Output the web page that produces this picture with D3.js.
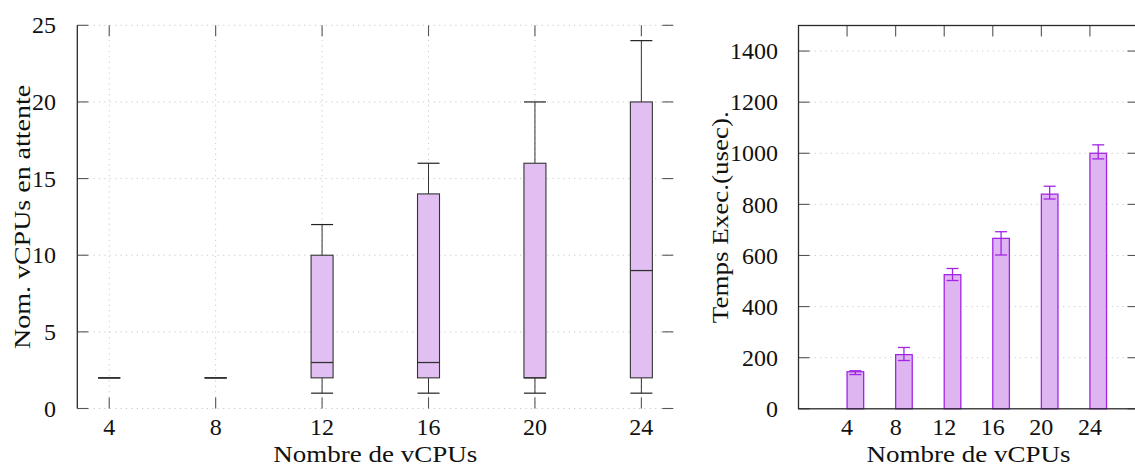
<!DOCTYPE html>
<html>
<head>
<meta charset="utf-8">
<script src="https://cdn.jsdelivr.net/npm/d3@7"></script>
<style>
  html, body { margin: 0; padding: 0; background: #fff; }
  svg { display: block; }
  text { font-family: "Liberation Serif", "DejaVu Serif", serif; fill: #111; }
</style>
</head>
<body>
<svg id="chart" width="1135" height="465"></svg>
<script>
// ---- Data ----
const categories = [4, 8, 12, 16, 20, 24];

// Left: box plot of waiting vCPUs
const whiskerLow  = [2, 2, 1, 1, 1, 1];
const quartile1   = [2, 2, 2, 2, 2, 2];
const medianVals  = [2, 2, 3, 3, 2, 9];
const quartile3   = [2, 2, 10, 14, 16, 20];
const whiskerHigh = [2, 2, 12, 16, 20, 24];
const leftYTicks  = [0, 5, 10, 15, 20, 25];

// Right: execution time bars with error bars
const execTime = [145, 212, 525, 667, 840, 1000];
const errLow   = [134, 189, 502, 602, 821, 978];
const errHigh  = [149, 240, 549, 693, 871, 1033];
const rightYTicks = [0, 200, 400, 600, 800, 1000, 1200, 1400];

const xLabel = "Nombre de vCPUs";
const leftYLabel = "Nom. vCPUs en attente";
const rightYLabel = "Temps Exec.(usec).";

// ---- Styles ----
const FONT = 24;
const gridColor = "#c8c8c8";
const axisColor = "#2a2a2a";
const tickColor = "#555";
const boxFill = "#e2bff3";
const boxStroke = "#333";
const barFill = "#dfb5f1";
const barStroke = "#a225e6";
const TICK = 11;

const svg = d3.select("#chart");

// ================= LEFT CHART =================
const L = { x0: 77.3, x1: 673.3, y0: 408.5, y1: 25.3 };
const xL = d3.scaleLinear().domain([2.8, 25.2]).range([L.x0, L.x1]);
const yL = d3.scaleLinear().domain([0, 25]).range([L.y0, L.y1]);

const gL = svg.append("g");

// grid (dotted) horizontal
gL.append("g").selectAll("line").data(leftYTicks).join("line")
  .attr("x1", L.x0).attr("x2", L.x1)
  .attr("y1", d => yL(d)).attr("y2", d => yL(d))
  .attr("stroke", gridColor).attr("stroke-width", 1)
  .attr("stroke-dasharray", "1.2,4.2");
// grid vertical
gL.append("g").selectAll("line").data(categories).join("line")
  .attr("x1", d => xL(d)).attr("x2", d => xL(d))
  .attr("y1", L.y0).attr("y2", L.y1)
  .attr("stroke", gridColor).attr("stroke-width", 1)
  .attr("stroke-dasharray", "1.2,4.2");

// ticks: left & right (horizontal), top & bottom (vertical), inward
const tL = gL.append("g").attr("stroke", tickColor).attr("stroke-width", 1.1);
tL.selectAll(".yl").data(leftYTicks).join("line")
  .attr("x1", L.x0).attr("x2", L.x0 + TICK)
  .attr("y1", d => yL(d)).attr("y2", d => yL(d));
tL.selectAll(".yr").data(leftYTicks).join("line").attr("class", "yr")
  .attr("x1", L.x1 - TICK).attr("x2", L.x1)
  .attr("y1", d => yL(d)).attr("y2", d => yL(d));
tL.selectAll(".xt").data(categories).join("line").attr("class", "xt")
  .attr("x1", d => xL(d)).attr("x2", d => xL(d))
  .attr("y1", L.y1).attr("y2", L.y1 + TICK);
tL.selectAll(".xb").data(categories).join("line").attr("class", "xb")
  .attr("x1", d => xL(d)).attr("x2", d => xL(d))
  .attr("y1", L.y0 - TICK).attr("y2", L.y0);

// left axis line
gL.append("line").attr("x1", L.x0).attr("x2", L.x0).attr("y1", L.y1).attr("y2", L.y0)
  .attr("stroke", axisColor).attr("stroke-width", 1.3);

// boxes
const boxW = 22, capW = 22;
const boxes = gL.append("g").selectAll("g").data(categories).join("g");
boxes.append("line")
  .attr("x1", d => xL(d)).attr("x2", d => xL(d))
  .attr("y1", (d, i) => yL(whiskerLow[i])).attr("y2", (d, i) => yL(quartile1[i]))
  .attr("stroke", boxStroke).attr("stroke-width", 1);
boxes.append("line")
  .attr("x1", d => xL(d)).attr("x2", d => xL(d))
  .attr("y1", (d, i) => yL(quartile3[i])).attr("y2", (d, i) => yL(whiskerHigh[i]))
  .attr("stroke", boxStroke).attr("stroke-width", 1);
boxes.append("line")
  .attr("x1", d => xL(d) - capW / 2).attr("x2", d => xL(d) + capW / 2)
  .attr("y1", (d, i) => yL(whiskerLow[i])).attr("y2", (d, i) => yL(whiskerLow[i]))
  .attr("stroke", "#222").attr("stroke-width", 1.2);
boxes.append("line")
  .attr("x1", d => xL(d) - capW / 2).attr("x2", d => xL(d) + capW / 2)
  .attr("y1", (d, i) => yL(whiskerHigh[i])).attr("y2", (d, i) => yL(whiskerHigh[i]))
  .attr("stroke", "#222").attr("stroke-width", 1.2);
boxes.append("rect")
  .attr("x", d => xL(d) - boxW / 2).attr("width", boxW)
  .attr("y", (d, i) => yL(quartile3[i]))
  .attr("height", (d, i) => yL(quartile1[i]) - yL(quartile3[i]))
  .attr("fill", boxFill).attr("stroke", boxStroke).attr("stroke-width", 1.1);
boxes.append("line")
  .attr("x1", d => xL(d) - boxW / 2).attr("x2", d => xL(d) + boxW / 2)
  .attr("y1", (d, i) => yL(medianVals[i])).attr("y2", (d, i) => yL(medianVals[i]))
  .attr("stroke", "#333").attr("stroke-width", 1.3);

// tick labels
gL.append("g").selectAll("text").data(leftYTicks).join("text")
  .attr("x", 56).attr("y", d => yL(d)).attr("dy", "0.34em")
  .attr("text-anchor", "end").attr("font-size", FONT).text(d => d);
gL.append("g").selectAll("text").data(categories).join("text")
  .attr("x", d => xL(d)).attr("y", 435)
  .attr("text-anchor", "middle").attr("font-size", FONT).text(d => d);
gL.append("text").attr("x", (L.x0 + L.x1) / 2).attr("y", 461.5)
  .attr("text-anchor", "middle").attr("font-size", FONT)
  .attr("textLength", 204).attr("lengthAdjust", "spacingAndGlyphs").text(xLabel);
gL.append("text")
  .attr("transform", `translate(30,${(L.y0 + L.y1) / 2}) rotate(-90)`)
  .attr("text-anchor", "middle").attr("font-size", FONT)
  .attr("textLength", 264).attr("lengthAdjust", "spacingAndGlyphs").text(leftYLabel);

// ================= RIGHT CHART =================
const R = { x0: 798.5, x1: 1138.5, y0: 408.8, y1: 25.5 };
const xR = d3.scaleLinear().domain([0, 28]).range([R.x0, R.x1]);
const yR = d3.scaleLinear().domain([0, 1500]).range([R.y0, R.y1]);
const gR = svg.append("g");

// horizontal grid
gR.append("g").selectAll("line").data(rightYTicks.filter(d => d > 0)).join("line")
  .attr("x1", R.x0).attr("x2", R.x1)
  .attr("y1", d => yR(d)).attr("y2", d => yR(d))
  .attr("stroke", gridColor).attr("stroke-width", 1)
  .attr("stroke-dasharray", "1.2,4.2");

// ticks
const tR = gR.append("g").attr("stroke", tickColor).attr("stroke-width", 1.1);
tR.selectAll(".yl").data(rightYTicks).join("line").attr("class", "yl")
  .attr("x1", R.x0).attr("x2", R.x0 + TICK)
  .attr("y1", d => yR(d)).attr("y2", d => yR(d));
tR.selectAll(".yr").data(rightYTicks).join("line").attr("class", "yr")
  .attr("x1", R.x1 - TICK).attr("x2", R.x1)
  .attr("y1", d => yR(d)).attr("y2", d => yR(d));
tR.selectAll(".xt").data(categories).join("line").attr("class", "xt")
  .attr("x1", d => xR(d)).attr("x2", d => xR(d))
  .attr("y1", R.y1).attr("y2", R.y1 + TICK);

// bars
const barW = 16.6;
gR.append("g").selectAll("rect").data(categories).join("rect")
  .attr("x", d => xR(d)).attr("width", barW)
  .attr("y", (d, i) => yR(execTime[i]))
  .attr("height", (d, i) => yR(0) - yR(execTime[i]))
  .attr("fill", barFill).attr("stroke", barStroke).attr("stroke-width", 1.3);

// error bars
const eb = gR.append("g").attr("stroke", barStroke).attr("stroke-width", 1.3);
eb.selectAll(".v").data(categories).join("line").attr("class", "v")
  .attr("x1", d => xR(d) + barW / 2).attr("x2", d => xR(d) + barW / 2)
  .attr("y1", (d, i) => yR(errLow[i])).attr("y2", (d, i) => yR(errHigh[i]));
eb.selectAll(".ch").data(categories).join("line").attr("class", "ch")
  .attr("x1", d => xR(d) + barW / 2 - 6).attr("x2", d => xR(d) + barW / 2 + 6)
  .attr("y1", (d, i) => yR(errHigh[i])).attr("y2", (d, i) => yR(errHigh[i]));
eb.selectAll(".cl").data(categories).join("line").attr("class", "cl")
  .attr("x1", d => xR(d) + barW / 2 - 6).attr("x2", d => xR(d) + barW / 2 + 6)
  .attr("y1", (d, i) => yR(errLow[i])).attr("y2", (d, i) => yR(errLow[i]));

// frame
gR.append("rect").attr("x", R.x0).attr("y", R.y1)
  .attr("width", R.x1 - R.x0).attr("height", R.y0 - R.y1)
  .attr("fill", "none").attr("stroke", axisColor).attr("stroke-width", 1.3);

// labels
gR.append("g").selectAll("text").data(rightYTicks).join("text")
  .attr("x", 778).attr("y", d => yR(d)).attr("dy", "0.34em")
  .attr("text-anchor", "end").attr("font-size", FONT).text(d => d);
gR.append("g").selectAll("text").data(categories).join("text")
  .attr("x", d => xR(d)).attr("y", 435)
  .attr("text-anchor", "middle").attr("font-size", FONT).text(d => d);
gR.append("text").attr("x", (R.x0 + R.x1) / 2).attr("y", 461.5)
  .attr("text-anchor", "middle").attr("font-size", FONT)
  .attr("textLength", 204).attr("lengthAdjust", "spacingAndGlyphs").text(xLabel);
gR.append("text")
  .attr("transform", `translate(728,${(R.y0 + R.y1) / 2}) rotate(-90)`)
  .attr("text-anchor", "middle").attr("font-size", FONT)
  .attr("textLength", 212).attr("lengthAdjust", "spacingAndGlyphs").text(rightYLabel);
</script>
</body>
</html>
